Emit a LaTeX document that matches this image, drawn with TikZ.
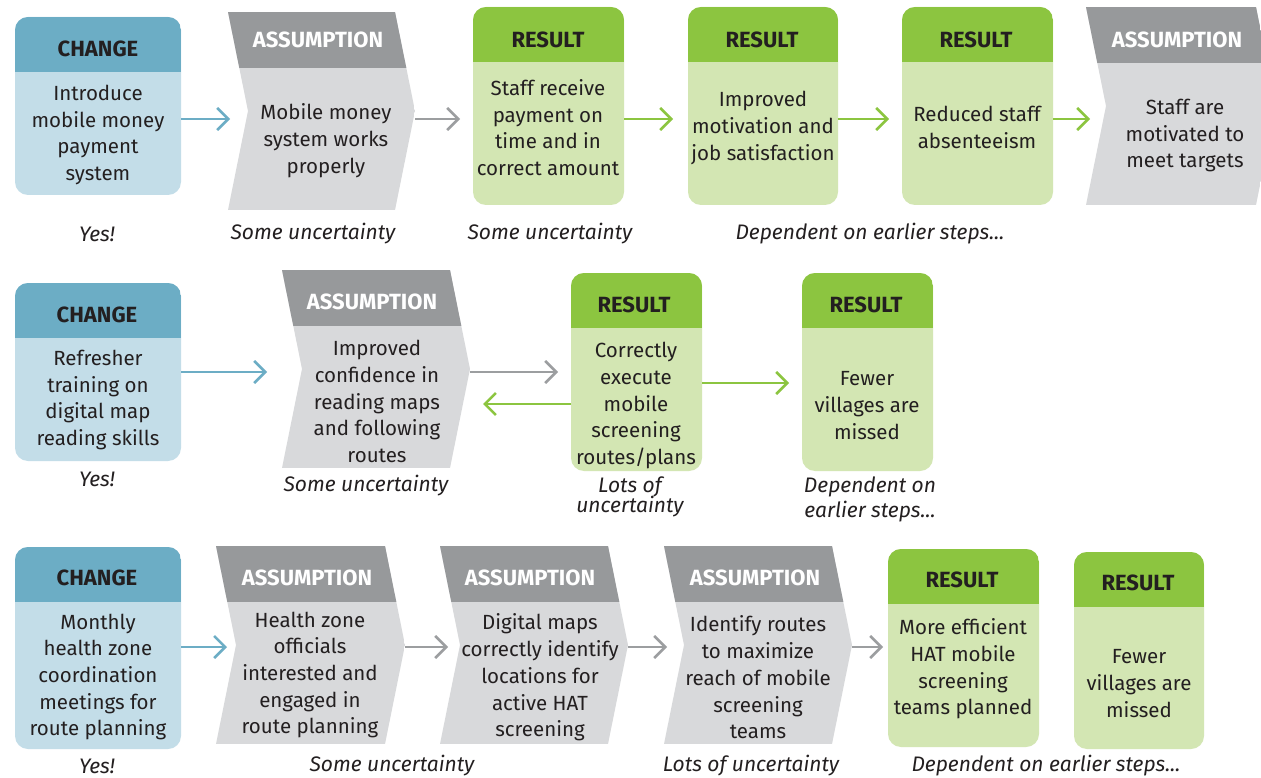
\documentclass[tikz,border=0pt]{standalone}
\usepackage{fontspec}
\setmainfont{Fira Sans}
\usetikzlibrary{arrows.meta,calc}

\definecolor{txt}{HTML}{231F20}
\definecolor{chgH}{HTML}{6CADC5}
\definecolor{chgB}{HTML}{C3DDE8}
\definecolor{resH}{HTML}{8CC540}
\definecolor{resB}{HTML}{D3E6B3}
\definecolor{asmH}{HTML}{97999B}
\definecolor{asmB}{HTML}{D8D9DB}
\definecolor{lnkB}{HTML}{6CADC5}
\definecolor{lnkG}{HTML}{8CC540}
\definecolor{lnkA}{HTML}{9C9EA0}

\tikzset{
  x=1pt, y=-1pt,
  frame/.style={shape=rectangle, anchor=north west, inner sep=0pt, outer sep=0pt},
  bodytxt/.style={font=\fontsize{20.5}{26.7}\selectfont, text=txt, align=center, inner sep=0pt, yshift=-1.5pt},
  headtxt/.style={font=\fontsize{22}{24}\selectfont\bfseries, text=txt, inner sep=0pt},
  asmtxt/.style={headtxt, text=white},
  note/.style={font=\fontsize{21}{25}\selectfont\itshape, text=txt, align=center, inner sep=0pt},
  link/.style={line width=2.6pt, -{Straight Barb[length=11pt,width=22pt]}},
}

% rounded box with a coloured header band: name, left, top, right, bottom, kind (chg/res)
\newcommand\roundbox[6]{%
  \node[frame, fill=#6B, rounded corners=13pt,
        minimum width={#4-#2}, minimum height={#5-#3}] (#1) at (#2,#3) {};
  \begin{scope}
    \clip[rounded corners=13pt] (#1.north west) rectangle (#1.south east);
    \fill[#6H] (#1.north west) rectangle ([yshift=-55pt]#1.north east);
  \end{scope}}

% chevron step with a grey header band: name, left, top, right tip, bottom
\newcommand\chevbox[5]{%
  \node[frame, minimum width={#4-#2}, minimum height={#5-#3}] (#1) at (#2,#3) {};
  \begin{scope}
    \path[clip] (#1.north west) -- ([xshift=-20pt]#1.north east) -- (#1.east)
      -- ([xshift=-20pt]#1.south east) -- (#1.south west) -- ([xshift=20pt]#1.west) -- cycle;
    \fill[asmB] (#1.north west) rectangle (#1.south east);
    \fill[asmH] (#1.north west) rectangle ([yshift=-56pt]#1.north east);
  \end{scope}}

\begin{document}
\begin{tikzpicture}
\useasboundingbox[fill=white] (0,0) rectangle (1261,778);

% ---------- row 1: mobile money ----------
\roundbox{c1}{15}{17}{181}{195}{chg}
\chevbox{a1}{228}{12}{415}{210}
\roundbox{r1}{473}{7}{624}{205}{res}
\roundbox{r2}{688}{7}{838}{205}{res}
\roundbox{r3}{902}{7}{1053}{205}{res}
\chevbox{a4}{1086}{7}{1276}{205}

\node[headtxt] (c1h) at (98,49) {CHANGE};
\node[bodytxt] (c1t) at (98,133.5) {Introduce\\mobile money\\payment\\system};
\node[asmtxt] (a1h) at (318,40) {ASSUMPTION};
\node[bodytxt] (a1t) at (326,139) {Mobile money\\system works\\properly};
\node[headtxt] (r1h) at (548,40) {RESULT};
\node[bodytxt] (r1t) at (548,126) {Staff receive\\payment on\\time and in\\correct amount};
\node[headtxt] (r2h) at (762,40) {RESULT};
\node[bodytxt] (r2t) at (763,126.5) {Improved\\motivation and\\job satisfaction};
\node[headtxt] (r3h) at (976,40) {RESULT};
\node[bodytxt] (r3t) at (977,126) {Reduced staff\\absenteeism};
\node[asmtxt] (a4h) at (1177,40) {ASSUMPTION};
\node[bodytxt] (a4t) at (1185,134) {Staff are\\motivated to\\meet targets};

\node[note] (n11) at (97,234) {Yes!};
\node[note] (n12) at (313,234) {Some uncertainty};
\node[note] (n13) at (550,234) {Some uncertainty};
\node[note] (n14) at (870,234) {Dependent on earlier steps...};

\coordinate (y1) at (0,119);
\draw[link, lnkB, shorten >=-2pt] (c1.east |- y1) -- (a1.west |- y1);
\draw[link, lnkA, shorten >=13pt] (a1.east |- y1) -- (r1.west |- y1);
\draw[link, lnkG, shorten >=15pt] (r1.east |- y1) -- (r2.west |- y1);
\draw[link, lnkG, shorten >=13pt] (r2.east |- y1) -- (r3.west |- y1);
\draw[link, lnkG, shorten >=-4pt] (r3.east |- y1) -- (a4.west |- y1);

% ---------- row 2: map reading ----------
\roundbox{c2}{15}{283}{181}{461}{chg}
\chevbox{a2}{282}{270}{470}{468}
\roundbox{r4}{571}{273}{702}{471}{res}
\roundbox{r5}{802}{273}{933}{471}{res}

\node[headtxt] (c2h) at (97,315) {CHANGE};
\node[bodytxt] (c2t) at (98,398.5) {Refresher\\training on\\digital map\\reading skills};
\node[asmtxt] (a2h) at (372,302) {ASSUMPTION};
\node[bodytxt] (a2t) at (377,400) {Improved\\confidence in\\reading maps\\and following\\routes};
\node[headtxt] (r4h) at (634,305) {RESULT};
\node[bodytxt] (r4t) at (636,404) {Correctly\\execute\\mobile\\screening\\routes/plans};
\node[headtxt] (r5h) at (866,305) {RESULT};
\node[bodytxt] (r5t) at (867,404) {Fewer\\villages are\\missed};

\node[note] (n21) at (97,479) {Yes!};
\node[note] (n22) at (366,486) {Some uncertainty};
\node[note] (n23) at (630,497) {Lots of\\[-5pt]uncertainty};
\node[note] (n24) at (870,499) {Dependent on\\earlier steps...};

\coordinate (y2) at (0,372);
\coordinate (y2b) at (0,404);
\coordinate (y2c) at (0,383);
\draw[link, lnkB, shorten >=15pt] (c2.east |- y2) -- (a2.west |- y2);
\draw[link, lnkA, shorten >=13pt] (a2.east |- y2) -- (r4.west |- y2);
\draw[link, lnkG, shorten >=13pt] (r4.west |- y2b) -- (a2.east |- y2b);
\draw[link, lnkG, shorten >=13pt] (r4.east |- y2c) -- (r5.west |- y2c);

% ---------- row 3: route planning ----------
\roundbox{c3}{15}{547}{181}{749}{chg}
\chevbox{a5}{216}{546}{405}{744}
\chevbox{a6}{440}{546}{628}{744}
\chevbox{a7}{664}{546}{852}{744}
\roundbox{r6}{888}{549}{1039}{747}{res}
\roundbox{r7}{1074}{552}{1204}{749}{res}

\node[headtxt] (c3h) at (97,578) {CHANGE};
\node[bodytxt] (c3t) at (98,675.5) {Monthly\\health zone\\coordination\\meetings for\\route planning};
\node[asmtxt] (a5h) at (307,578) {ASSUMPTION};
\node[bodytxt] (a5t) at (310,673.5) {Health zone\\officials\\interested and\\engaged in\\route planning};
\node[asmtxt] (a6h) at (530,578) {ASSUMPTION};
\node[bodytxt] (a6t) at (540,676) {Digital maps\\correctly identify\\locations for\\active HAT\\screening};
\node[asmtxt] (a7h) at (755,578) {ASSUMPTION};
\node[bodytxt] (a7t) at (758,676) {Identify routes\\to maximize\\reach of mobile\\screening\\teams};
\node[headtxt] (r6h) at (962,580) {RESULT};
\node[bodytxt] (r6t) at (963,667.5) {More efficient\\HAT mobile\\screening\\teams planned};
\node[headtxt] (r7h) at (1138,583) {RESULT};
\node[bodytxt] (r7t) at (1139,682) {Fewer\\villages are\\missed};

\node[note] (n31) at (97,766) {Yes!};
\node[note] (n32) at (392,766) {Some uncertainty};
\node[note] (n33) at (751,766) {Lots of uncertainty};
\node[note] (n34) at (1046,766) {Dependent on earlier steps...};

\coordinate (y3) at (0,647);
\draw[link, lnkB, shorten >=-11pt] (c3.east |- y3) -- (a5.west |- y3);
\draw[link, lnkA, shorten >=-8pt] (a5.east |- y3) -- (a6.west |- y3);
\draw[link, lnkA, shorten >=-3pt] (a6.east |- y3) -- (a7.west |- y3);
\draw[link, lnkA, shorten >=5pt] (a7.east |- y3) -- (r6.west |- y3);
\end{tikzpicture}
\end{document}
